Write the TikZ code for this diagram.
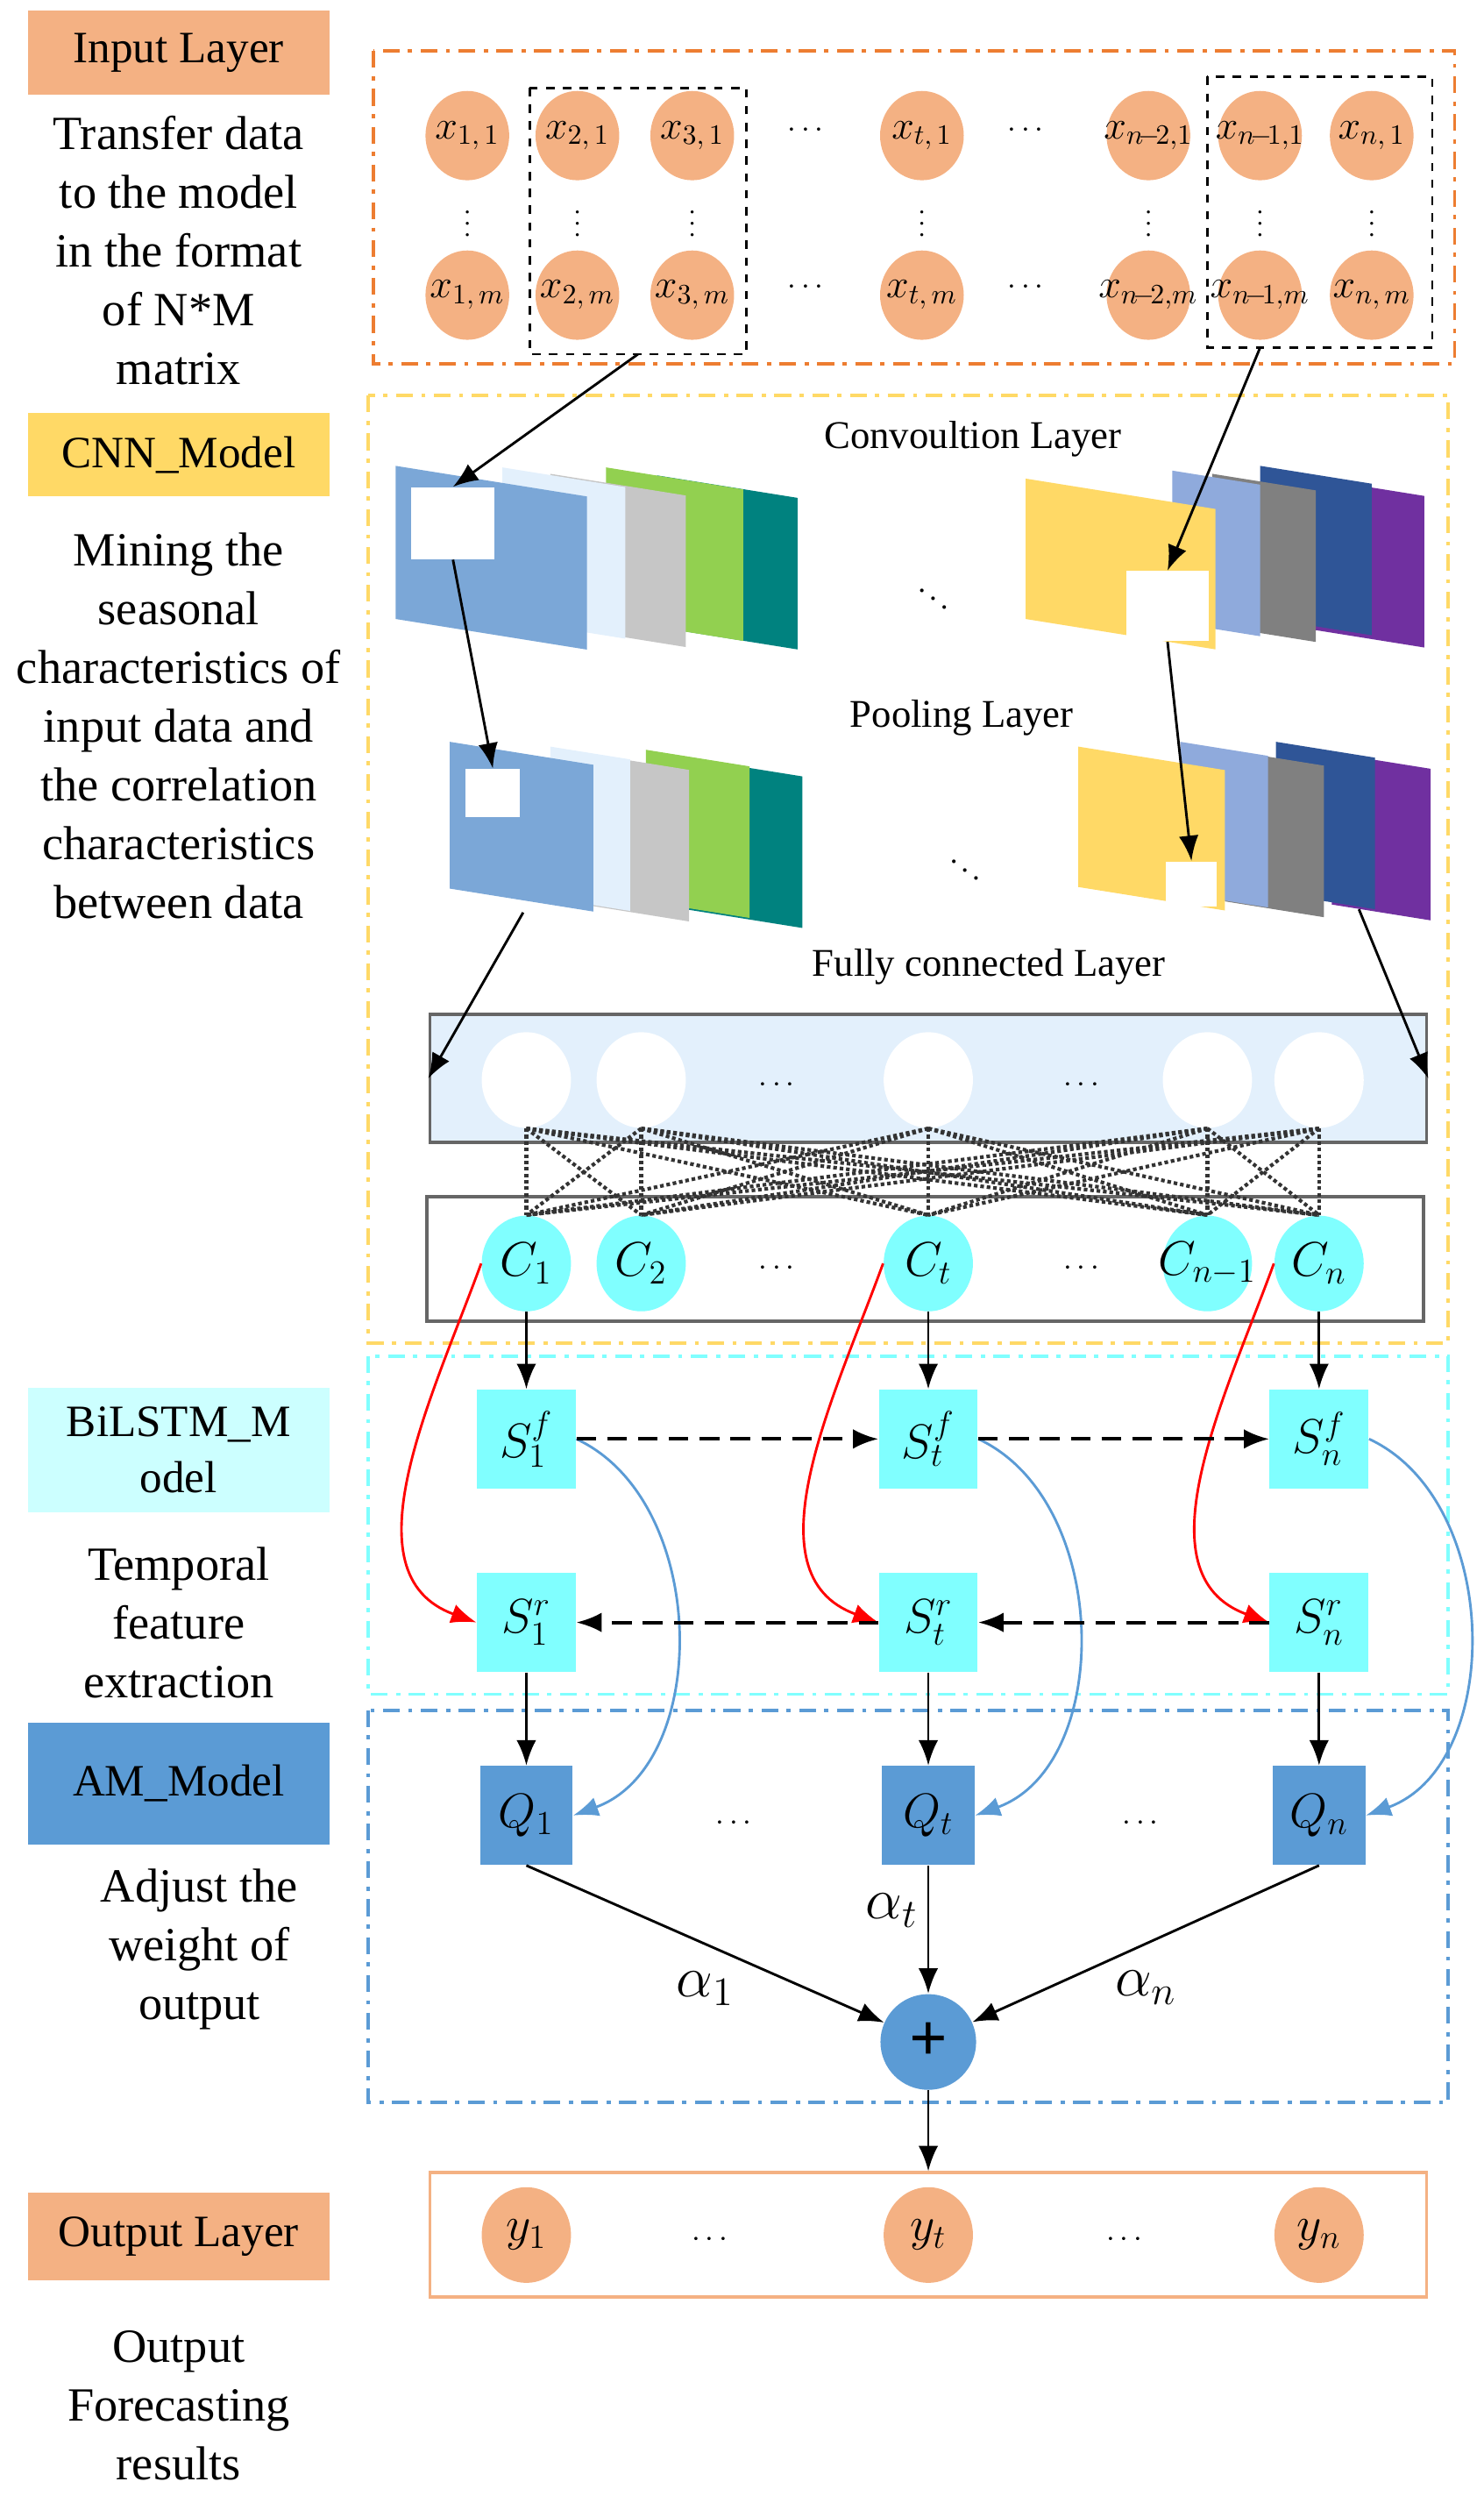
\documentclass[tikz,border=0pt]{standalone}
\usepackage{fontspec}
\setmainfont{Liberation Serif}
\usetikzlibrary{arrows.meta,positioning,shapes.geometric}
\definecolor{inorange}{HTML}{F4B183}
\definecolor{dorange}{HTML}{ED7D31}
\definecolor{cnnyel}{HTML}{FFD966}
\definecolor{lcyan}{HTML}{CCFFFF}
\definecolor{scyan}{HTML}{80FFFF}
\definecolor{amblue}{HTML}{5B9BD5}
\definecolor{fcblue}{HTML}{E3F0FC}
\definecolor{mapblue}{HTML}{7BA7D7}
\definecolor{mapgreen}{HTML}{92D050}
\definecolor{mapteal}{HTML}{00827F}
\definecolor{mapdblue}{HTML}{2F5597}
\definecolor{mappurple}{HTML}{7030A0}
\definecolor{maplblue}{HTML}{8FAADC}
\newcommand\fmap[5]{% x0, x1, ytop, height, colour
  \fill[#5] (#1,#3) -- (#2,#3+0.16*#2-0.16*#1) -- (#2,#3+#4+0.16*#2-0.16*#1) -- (#1,#3+#4) -- cycle;}
\tikzset{
  sidebox/.style={minimum width=3.78cm, minimum height=1.05cm, font=\fontsize{16}{19}\selectfont},
  sidetext/.style={align=center, font=\fontsize{17}{21}\selectfont},
  xin/.style={ellipse, fill=inorange, minimum width=1.05cm, minimum height=1.12cm, inner sep=0pt},
  xlab/.style={inner sep=0pt, font=\fontsize{14}{16}\selectfont},
  fcn/.style={ellipse, fill=white, minimum width=1.12cm, minimum height=1.2cm, inner sep=0pt},
  cn/.style={ellipse, fill=scyan, minimum width=1.12cm, minimum height=1.2cm, inner sep=0pt},
  clab/.style={inner sep=0pt, font=\fontsize{18}{20}\selectfont},
  sbox/.style={fill=scyan, minimum width=1.24cm, minimum height=1.24cm, inner sep=0pt, font=\fontsize{18}{20}\selectfont},
  qbox/.style={fill=amblue, minimum width=1.16cm, minimum height=1.24cm, inner sep=0pt, font=\fontsize{18}{20}\selectfont},
  frame/.style={line width=1.2pt, dash pattern=on 6pt off 3pt on 1.5pt off 3pt},
  arr/.style={-{Latex[length=9pt,width=7pt]}, line width=0.9pt},
  darr/.style={arr, line width=1.2pt, dash pattern=on 7pt off 4pt},
  dots/.style={font=\fontsize{11}{12}\selectfont},
  vdots/.style={inner sep=0pt, font=\fontsize{9}{10}\selectfont},
  ttl/.style={font=\fontsize{14}{16}\selectfont},
  alab/.style={font=\fontsize{20}{22}\selectfont}
}
\begin{document}
\begin{tikzpicture}[x=0.02cm,y=-0.02cm]
\useasboundingbox (0,0) rectangle (930,1569);
% left column
\node[sidebox, fill=inorange] (inl) at (112,33) {Input Layer};
\node[sidetext] at (112,157) {Transfer data\\to the model\\in the format\\of N*M\\matrix};
\node[sidebox, fill=cnnyel] (cnnl) at (112,285) {CNN\_Model};
\node[sidetext] at (112,455) {Mining the\\seasonal\\characteristics of\\input data and\\the correlation\\characteristics\\between data};
\node[sidebox, fill=lcyan, minimum height=1.56cm, align=center, font=\fontsize{16}{20}\selectfont] (bil) at (112,909) {BiLSTM\_M\\odel};
\node[sidetext] at (112,1017) {Temporal\\feature\\extraction};
\node[sidebox, fill=amblue, minimum height=1.52cm] (aml) at (112,1118) {AM\_Model};
\node[sidetext] at (125,1222) {Adjust the\\weight of\\output};
\node[sidebox, fill=inorange, minimum height=1.1cm] (outl) at (112,1402) {Output Layer};
\node[sidetext] at (112,1508) {Output\\Forecasting\\results};

% frames
\draw[frame, dorange] (234,32) rectangle (912,228);
\draw[frame, cnnyel] (231,248) rectangle (908,842);
\draw[frame, scyan] (231,850) rectangle (908,1062);
\draw[frame, amblue] (231,1072) rectangle (908,1318);

% input matrix
\foreach \x/\n/\a/\b in {293/1/{1,\,1}/{1,\,m},362/2/{2,\,1}/{2,\,m},434/3/{3,\,1}/{3,\,m},578/t/{t,\,1}/{t,\,m},720/n2/{n\!-\!2,1}/{n\!-\!2,m},790/n1/{n\!-\!1,1}/{n\!-\!1,m},860/n/{n,\,1}/{n,\,m}}{
  \node[xin] (x\n a) at (\x,85) {};
  \node[xlab] at (x\n a) {$x_{\a}$};
  \node[xin] (x\n b) at (\x,185) {};
  \node[xlab] at (x\n b) {$x_{\b}$};
  \node[vdots] at (\x,135) {$\vdots$};}
\foreach \x in {505,643}{\node[dots] at (\x,82) {$\cdots$}; \node[dots] at (\x,180) {$\cdots$};}
\draw[dashed, line width=0.9pt] (332,55) rectangle (468,222);
\draw[dashed, line width=0.9pt] (757,48) rectangle (898,218);
\coordinate (win1) at (400,222);
\coordinate (win2) at (790,218);

% convolution layer
\node[ttl] at (610,275) {Convoultion Layer};
\fmap{412}{500}{298}{95}{mapteal}
\fmap{380}{466}{293}{95}{mapgreen}
\fmap{345}{430}{297}{95}{gray!45}
\fmap{315}{392}{293}{95}{fcblue}
\fmap{248}{368}{292}{96}{mapblue}
\node[fill=white, minimum width=1.04cm, minimum height=0.9cm, inner sep=0pt] (cw1) at (284,328) {};
\fmap{825}{893}{300}{95}{mappurple}
\fmap{790}{860}{292}{95}{mapdblue}
\fmap{760}{825}{297}{95}{gray}
\fmap{735}{790}{295}{95}{maplblue}
\fmap{643}{762}{300}{88}{cnnyel}
\node[fill=white, minimum width=1.04cm, minimum height=0.88cm, inner sep=0pt] (cw2) at (732,380) {};
\node[dots] at (585,370) {$\ddots$};

% pooling layer
\node[ttl] at (603,450) {Pooling Layer};
\fmap{430}{503}{475}{95}{mapteal}
\fmap{405}{470}{470}{95}{mapgreen}
\fmap{372}{432}{473}{95}{gray!45}
\fmap{345}{395}{468}{95}{fcblue}
\fmap{282}{372}{465}{92}{mapblue}
\node[fill=white, minimum width=0.68cm, minimum height=0.6cm, inner sep=0pt] (pw1) at (309,497) {};
\fmap{835}{897}{472}{95}{mappurple}
\fmap{800}{862}{465}{95}{mapdblue}
\fmap{768}{830}{470}{95}{gray}
\fmap{740}{795}{465}{95}{maplblue}
\fmap{676}{768}{468}{88}{cnnyel}
\node[fill=white, minimum width=0.64cm, minimum height=0.56cm, inner sep=0pt] (pw2) at (747,554) {};
\node[dots] at (605,540) {$\ddots$};
\coordinate (pl) at (328,572);
\coordinate (pr) at (852,570);

% fully connected layer
\node[ttl] at (620,606) {Fully connected Layer};
\node[draw=gray!80!black, line width=1.2pt, fill=fcblue, minimum width=12.5cm, minimum height=1.6cm] (fcb) at (582,676) {};
\node[draw=gray!80!black, line width=1.2pt, minimum width=12.5cm, minimum height=1.56cm] (cb) at (580,789) {};
\foreach \x/\n/\s in {330/1/1,402/2/2,582/t/t,757/n1/{n-1},827/n/n}{
  \node[fcn] (f\n) at (\x,677) {};
  \node[cn] (c\n) at (\x,792) {};
  \node[clab] at (c\n) {$C_{\s}$};}
\foreach \x in {487,678}{\node[dots] at (\x,680) {$\cdots$}; \node[dots] at (\x,795) {$\cdots$};}
\foreach \i in {1,2,t,n1,n}{
  \foreach \j in {1,2,t,n1,n}{
    \draw[densely dotted, line width=1.3pt, black!80] (f\i.south) -- (c\j.north);}}

% BiLSTM and attention
\foreach \x/\n/\s in {330/1/1,582/t/t,827/n/n}{
  \node[sbox] (sf\n) at (\x,902) {$S_{\s}^{f}$};
  \node[sbox] (sr\n) at (\x,1017) {$S_{\s}^{r}$};
  \node[qbox] (q\n) at (\x,1138) {$Q_{\s}$};
  \draw[arr] (c\n) -- (sf\n);
  \draw[arr] (sr\n) -- (q\n);
  \draw[arr, red] (c\n.west) to[out=250, in=160] (sr\n.west);
  \draw[arr, amblue] (sf\n.east) to[out=-25, in=20] (q\n.east);}
\draw[darr] (sf1) -- (sft);
\draw[darr] (sft) -- (sfn);
\draw[darr] (srn) -- (srt);
\draw[darr] (srt) -- (sr1);
\foreach \x in {460,715}{\node[dots] at (\x,1143) {$\cdots$};}
\node[circle, fill=amblue, minimum size=1.2cm, inner sep=0pt, font=\fontsize{24}{26}\selectfont\bfseries] (sum) at (582,1280) {+};
\draw[arr] (q1.south) -- node[below=6pt, alab] {$\alpha_{1}$} (sum);
\draw[arr] (qt.south) -- node[left, pos=0.35, alab] {$\alpha_{t}$} (sum);
\draw[arr] (qn.south) -- node[below=6pt, alab] {$\alpha_{n}$} (sum);

% output layer
\node[draw=inorange, line width=1.2pt, minimum width=12.5cm, minimum height=1.56cm] (ob) at (582,1401) {};
\foreach \x/\n/\s in {330/1/1,582/t/t,827/n/n}{
  \node[xin, minimum width=1.12cm, minimum height=1.2cm, font=\fontsize{18}{20}\selectfont] (y\n) at (\x,1401) {$y_{\s}$};}
\foreach \x in {445,705}{\node[dots] at (\x,1404) {$\cdots$};}
\draw[arr] (sum) -- (ob);

% feature arrows
\draw[arr] (win1) -- (cw1.north);
\draw[arr] (win2) -- (cw2.north);
\draw[arr] (cw1.south) -- (pw1.north);
\draw[arr] (cw2.south) -- (pw2.north);
\draw[arr] (pl) -- (fcb.west);
\draw[arr] (pr) -- (fcb.east);
\end{tikzpicture}
\end{document}
